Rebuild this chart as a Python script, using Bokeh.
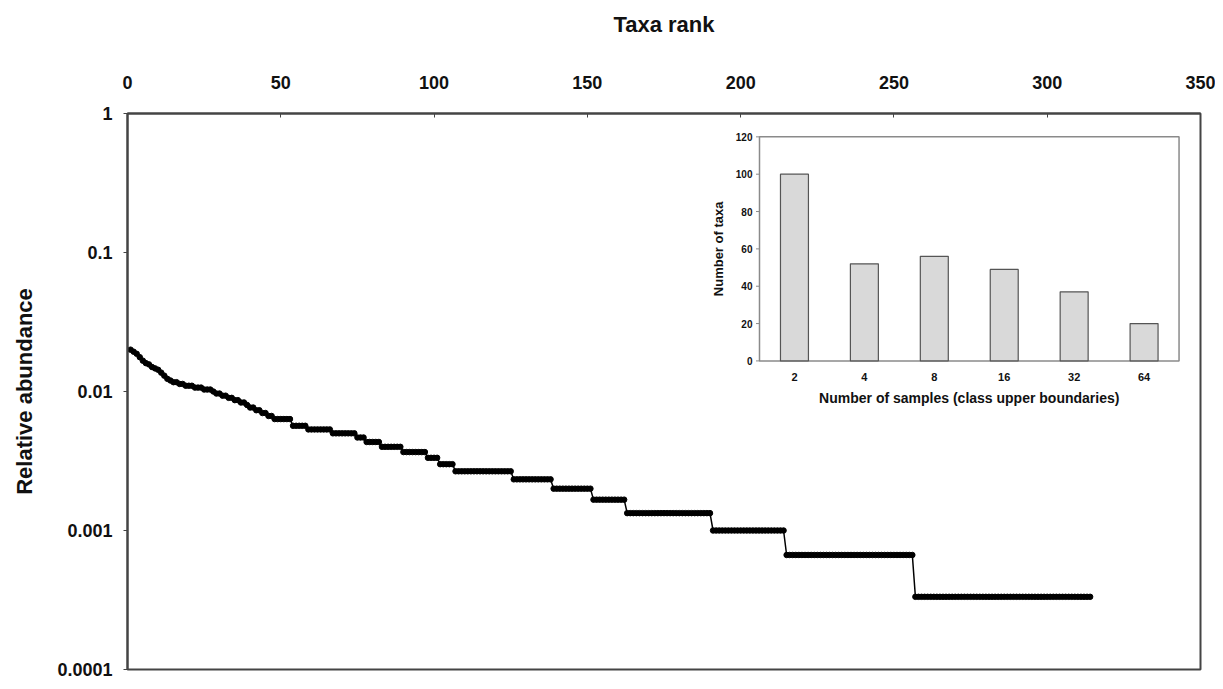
import math
import numpy as np
from bokeh.plotting import figure
from bokeh.models import Range1d, LinearScale, FixedTicker, CustomJSTickFormatter
from bokeh.embed import file_html
from bokeh.resources import INLINE
from bokeh.core.properties import value

# ---------------- data ----------------
# rank-abundance curve: abundance levels (in individuals out of the total) and
# how many consecutive ranks sit on each level
level_counts = [60, 58, 56, 53, 50, 48, 47, 45, 44, 43, 41, 39, 37, 36,
                35, 34, 33, 32, 31, 30, 29, 28, 27, 26, 25, 24, 23, 22, 21, 20,
                19, 17, 16, 15, 14, 13, 12, 11, 10, 9, 8, 7, 6, 5, 4, 3, 2, 1]
taxa_per_level = [1, 1, 1, 1, 1, 1, 1, 1, 1, 1, 1, 1, 1, 1,
                  2, 2, 3, 3, 3, 1, 2, 2, 2, 2, 2, 1, 2, 2, 2, 2,
                  6, 5, 8, 8, 3, 5, 7, 8, 4, 5, 19, 13, 13, 11, 28, 24, 42, 58]
total_individuals = 3000

x_ticks = [0, 50, 100, 150, 200, 250, 300, 350]
y_ticks = [0.0001, 0.001, 0.01, 0.1, 1]

# inset histogram
class_bounds = ["2", "4", "8", "16", "32", "64"]
taxa_in_class = [100, 52, 56, 49, 37, 20]
inset_y_ticks = [0, 20, 40, 60, 80, 100, 120]

# ---------------- derived ----------------
abundance = np.repeat(level_counts, taxa_per_level) / total_individuals
rank = np.arange(1, len(abundance) + 1)

FONT = "Liberation Sans"
W, H = 1215, 681

p = figure(width=W, height=H, output_backend="svg", toolbar_location=None,
           x_range=Range1d(x_ticks[0], x_ticks[-1]),
           y_range=Range1d(y_ticks[0], y_ticks[-1]),
           y_axis_type="log", x_axis_location="above",
           min_border_left=127, min_border_top=113,
           min_border_right=15, min_border_bottom=12)
p.background_fill_color = "white"
p.border_fill_color = "white"
p.grid.visible = False
p.outline_line_color = "#444444"
p.outline_line_width = 2

# top x axis
xa = p.xaxis[0]
xa.ticker = FixedTicker(ticks=x_ticks)
xa.axis_label = "Taxa rank"
xa.axis_label_text_font = FONT
xa.axis_label_text_font_size = "22px"
xa.axis_label_text_font_style = "bold"
xa.axis_label_text_color = "#111111"
xa.axis_label_standoff = 36
xa.major_label_text_font = FONT
xa.major_label_text_font_size = "18px"
xa.major_label_text_font_style = "bold"
xa.major_label_text_color = "#111111"
xa.major_label_standoff = 25
xa.major_tick_in = 4
xa.major_tick_out = 0
xa.minor_tick_line_color = None
xa.axis_line_width = 2
xa.axis_line_color = "#444444"
xa.major_tick_line_color = "#444444"

# left log y axis
ya = p.yaxis[0]
ya.ticker = FixedTicker(ticks=y_ticks)
ya.formatter = CustomJSTickFormatter(code="return tick.toString();")
ya.axis_label = "Relative abundance"
ya.axis_label_text_font = FONT
ya.axis_label_text_font_size = "22px"
ya.axis_label_text_font_style = "bold"
ya.axis_label_text_color = "#111111"
ya.axis_label_standoff = 17
ya.major_label_text_font = FONT
ya.major_label_text_font_size = "18px"
ya.major_label_text_font_style = "bold"
ya.major_label_text_color = "#111111"
ya.major_label_standoff = 11
ya.major_tick_in = 0
ya.major_tick_out = 4
ya.minor_tick_line_color = None
ya.axis_line_width = 2
ya.axis_line_color = "#444444"
ya.major_tick_line_color = "#444444"

# rank-abundance curve
p.line(rank, abundance, line_color="black", line_width=1.5)
p.scatter(rank, abundance, size=5.5, fill_color="black", line_color="black")

# ---------------- inset histogram (drawn in its own ranges) ----------------
inset_left, inset_right = 0.589, 0.980      # fraction of frame width
inset_top, inset_bottom = 0.042, 0.445      # fraction of frame height from top
n = len(class_bounds)
ymax = inset_y_ticks[-1]
span_x = n / (inset_right - inset_left)
start_x = -inset_left * span_x
f_bot, f_top = 1 - inset_bottom, 1 - inset_top
span_y = ymax / (f_top - f_bot)
start_y = -f_bot * span_y
p.extra_x_ranges = {"ix": Range1d(start_x, start_x + span_x)}
p.extra_y_ranges = {"iy": Range1d(start_y, start_y + span_y)}
p.extra_x_scales = {"ix": LinearScale()}
p.extra_y_scales = {"iy": LinearScale()}
kw = dict(x_range_name="ix", y_range_name="iy")

xpos = [i + 0.5 for i in range(n)]

p.quad(left=[0], right=[n], bottom=[0], top=[ymax], fill_color="white",
       line_color="#8a8a8a", line_width=1.5, **kw)
p.vbar(x=xpos, width=0.4, top=taxa_in_class, bottom=0,
       fill_color="#d9d9d9", line_color="#555555", line_width=1.2, **kw)
# y ticks
p.segment(x0=[0] * len(inset_y_ticks), x1=[-0.05] * len(inset_y_ticks),
          y0=inset_y_ticks, y1=inset_y_ticks, line_color="#8a8a8a", line_width=1, **kw)
p.text(x=[0] * len(inset_y_ticks), y=inset_y_ticks, text=[str(v) for v in inset_y_ticks],
       x_offset=-7, text_align="right", text_baseline="middle",
       text_font=value(FONT), text_font_size="10px", text_font_style="bold",
       text_color="#111111", **kw)
# x tick labels
p.text(x=xpos, y=[0] * n, text=class_bounds, y_offset=16,
       text_align="center", text_baseline="middle",
       text_font=value(FONT), text_font_size="11px", text_font_style="bold",
       text_color="#111111", **kw)
# inset axis titles
p.text(x=[n / 2], y=[0], text=["Number of samples (class upper boundaries)"], y_offset=37,
       text_align="center", text_baseline="middle",
       text_font=value(FONT), text_font_size="14px", text_font_style="bold",
       text_color="#111111", **kw)
p.text(x=[0], y=[ymax / 2], text=["Number of taxa"], x_offset=-41, angle=math.pi / 2,
       text_align="center", text_baseline="middle",
       text_font=value(FONT), text_font_size="13px", text_font_style="bold",
       text_color="#111111", **kw)

open("out.html", "w").write(file_html(p, INLINE))
